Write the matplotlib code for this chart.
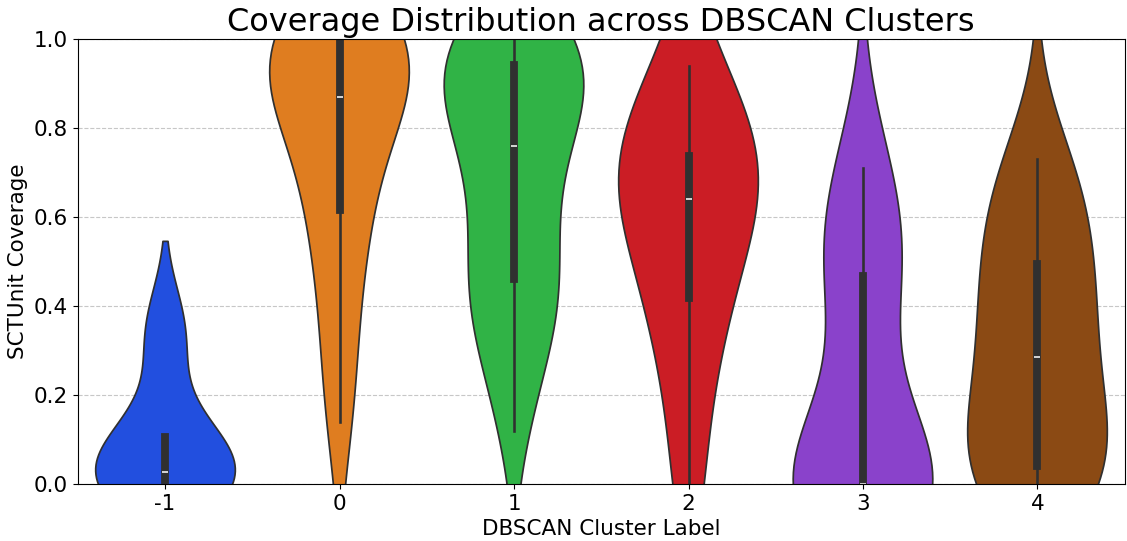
import matplotlib
matplotlib.use("Agg")
import matplotlib.pyplot as plt
import pandas as pd
import seaborn as sns

# SCTUnit coverage per spot, grouped by DBSCAN label
cluster_labels = ["-1", "0", "1", "2", "3", "4"]
cov_noise = [0.0, 0.009, 0.027, 0.105, 0.34]
cov_c0 = [0.14, 0.30, 0.45, 0.57, 0.63, 0.72, 0.80, 0.85, 0.89, 0.93, 0.96,
          1.0, 1.0, 1.0, 1.0, 1.0]
cov_c1 = [0.12, 0.24, 0.31, 0.36, 0.40, 0.43, 0.47, 0.51, 0.56, 0.62, 0.69, 0.75,
          0.77, 0.81, 0.85, 0.88, 0.91, 0.94, 0.95, 0.96, 0.98, 1.0, 1.0, 1.0]
cov_c2 = [0.0, 0.22, 0.38, 0.43, 0.55, 0.62, 0.66, 0.70, 0.72, 0.79, 0.86, 0.94]
cov_c3 = [0.0, 0.0, 0.0, 0.0, 0.0, 0.0, 0.40, 0.49, 0.58, 0.71]
cov_c4 = [0.0, 0.02, 0.03, 0.045, 0.15, 0.25, 0.32, 0.40, 0.47, 0.57, 0.64, 0.73]

groups = [cov_noise, cov_c0, cov_c1, cov_c2, cov_c3, cov_c4]
df = pd.DataFrame({
    "cluster": [lab for lab, g in zip(cluster_labels, groups) for _ in g],
    "coverage": [v for g in groups for v in g],
})

fig = plt.figure(figsize=(11.27, 5.41), dpi=100)
ax = fig.add_axes([0.069, 0.105, 0.929, 0.823])

sns.violinplot(data=df, x="cluster", y="coverage", hue="cluster",
               order=cluster_labels, hue_order=cluster_labels,
               palette="bright", inner="box", density_norm="width",
               legend=False, ax=ax)

ax.set_ylim(0, 1)
ax.set_title("Coverage Distribution across DBSCAN Clusters", fontsize=23)
ax.set_xlabel("DBSCAN Cluster Label", fontsize=15.5)
ax.set_ylabel("SCTUnit Coverage", fontsize=15.5)
ax.tick_params(axis="both", labelsize=15.5)
ax.grid(axis="y", linestyle="--", alpha=0.7)
ax.set_axisbelow(True)

fig.savefig("out.png", dpi=100)
